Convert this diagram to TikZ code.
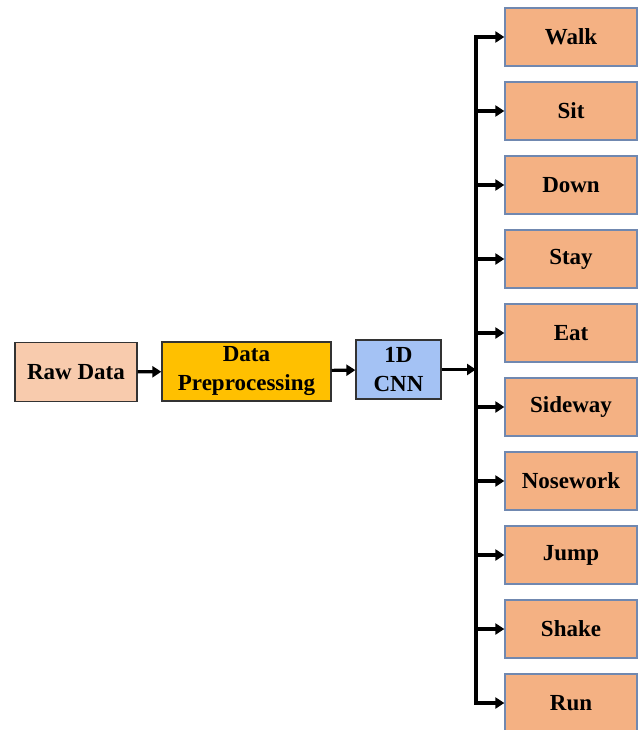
\documentclass[tikz,border=0pt]{standalone}
\usepackage{fontspec}
\setmainfont{Liberation Serif}
\usetikzlibrary{arrows.meta}

\definecolor{rawFill}{HTML}{F8CBAD}
\definecolor{prepFill}{HTML}{FFC000}
\definecolor{cnnFill}{HTML}{A4C2F4}
\definecolor{classFill}{HTML}{F4B183}
\definecolor{classEdge}{HTML}{7088B0}

\begin{document}
\begin{tikzpicture}[x=1pt,y=-1pt,
        box/.style={draw=black!80,line width=1.3pt,minimum height=59pt,align=center,
            inner sep=0pt,font=\fontsize{23}{29}\selectfont\bfseries},
        classbox/.style={box,draw=classEdge,fill=classFill,minimum width=132pt,minimum height=58pt},
        flow/.style={line width=3.2pt,-{Triangle[length=9pt,width=11pt]}},
        bus/.style={line width=3.2pt}]

        % -----------
        % Parameters.
        % -----------

        \pgfmathsetmacro{\xBus}{476}        % x-position of the vertical bus.
        \pgfmathsetmacro{\xClass}{571}      % x-centre of the class boxes.
        \pgfmathsetmacro{\yFirst}{37}       % y-centre of the first class box.
        \pgfmathsetmacro{\yPitch}{74}       % Spacing of the class boxes.

        % Page frame.
        \useasboundingbox (0,0) rectangle (644,730);

        % --------
        % Drawing.
        % --------

        % Pipeline.
        \node[box,fill=rawFill,minimum width=122pt] (raw) at (76,372) {Raw Data};
        \node[box,fill=prepFill,minimum width=169pt] (prep) at (246.5,371.5) {Data\\Preprocessing};
        \node[box,fill=cnnFill,minimum width=85pt] (cnn) at (398.5,369.5) {1D\\CNN};

        % Class boxes.
        \foreach \name [count=\i from 0] in {Walk,Sit,Down,Stay,Eat,Sideway,Nosework,Jump,Shake,Run}
            \node[classbox] (c\i) at (\xClass,\yFirst+\i*\yPitch) {\name};

        % Bus.
        \coordinate (bus) at (\xBus,0);

        % Arrows along the pipeline.
        \draw[flow] (raw) -- (prep);
        \draw[flow] (prep) -- (cnn);
        \draw[flow] (cnn.east) -- (cnn.east -| bus);

        % Vertical bus and arrows to the classes.
        \draw[bus,line cap=rect] (c0.west -| bus) -- (c9.west -| bus);
        \foreach \i in {0,...,9}
            \draw[flow] (c\i.west -| bus) -- (c\i.west);

    \end{tikzpicture}
\end{document}
